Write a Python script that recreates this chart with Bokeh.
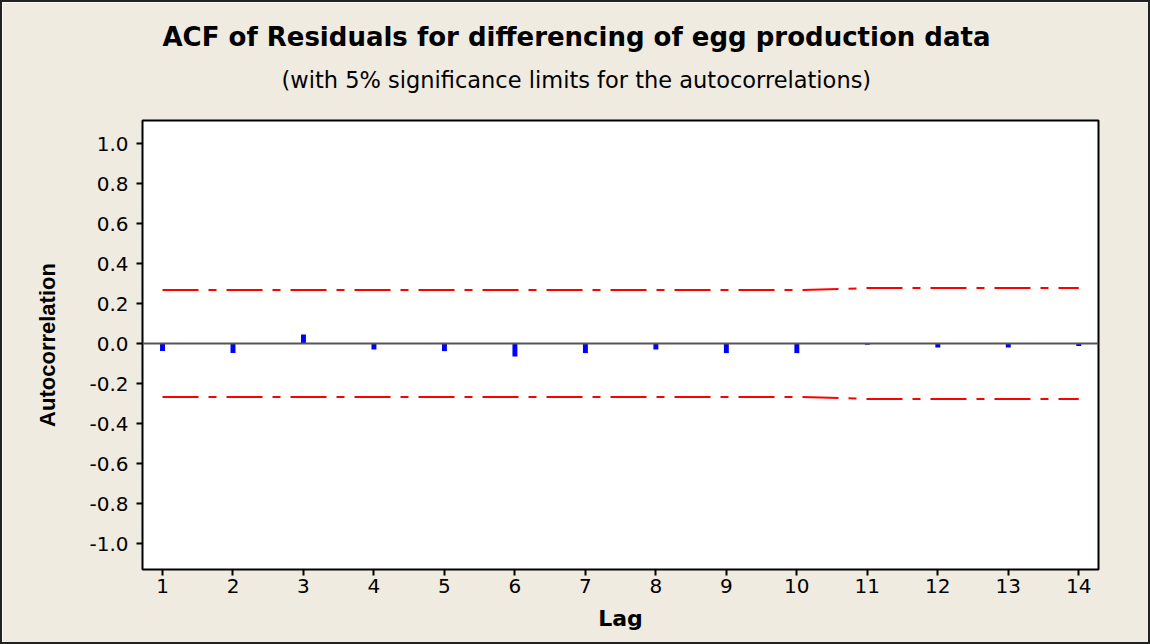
from bokeh.plotting import figure
from bokeh.models import Title, Range1d, FixedTicker, Span, CustomJSTickFormatter
from bokeh.embed import file_html
from bokeh.resources import INLINE

lags = [1, 2, 3, 4, 5, 6, 7, 8, 9, 10, 11, 12, 13, 14]
acf = [-0.038, -0.048, 0.045, -0.030, -0.038, -0.065, -0.048,
       -0.030, -0.048, -0.048, -0.006, -0.020, -0.020, -0.013]
upper = [0.267] * 10 + [0.277] * 4
lower = [-0.267] * 10 + [-0.277] * 4
y_ticks = [-1.0, -0.8, -0.6, -0.4, -0.2, 0.0, 0.2, 0.4, 0.6, 0.8, 1.0]
title_text = "ACF of Residuals for differencing of egg production data"
subtitle_text = "(with 5% significance limits for the autocorrelations)"

BG = "#EFEBE1"
FONT = "DejaVu Sans"

p = figure(width=1150, height=644, output_backend="svg", toolbar_location=None,
           title=None,
           x_range=Range1d(0.716, 14.28), y_range=Range1d(-1.13, 1.115),
           min_border_left=140, min_border_right=54, min_border_top=118,
           min_border_bottom=77)
p.background_fill_color = "white"
p.border_fill_color = BG
p.outline_line_color = "black"
p.outline_line_width = 2
p.grid.visible = False
p.styles = {"border": "2px solid #222", "box-sizing": "border-box"}

sub = Title(text=subtitle_text,
            align="left", text_font=FONT, text_font_size="22.5px",
            text_font_style="normal", text_color="black", standoff=56,
            offset=139)
p.add_layout(sub, "above")
main = Title(text=title_text,
             align="left", text_font=FONT, text_font_size="26px",
             text_font_style="bold", text_color="black", standoff=-31,
             offset=20)
p.add_layout(main, "above")

p.add_layout(Span(location=0, dimension="width", line_color="#555555", line_width=2))

p.line(lags, upper, line_color="#FF0000", line_width=2, line_dash="36 10 8 10")
p.line(lags, lower, line_color="#FF0000", line_width=2, line_dash="36 10 8 10")
p.vbar(x=lags, top=acf, bottom=0, width=0.07, fill_color="#0000FF",
       line_color=None)

p.xaxis.ticker = FixedTicker(ticks=lags)
p.yaxis.ticker = FixedTicker(ticks=y_ticks)
p.yaxis.formatter = CustomJSTickFormatter(code="return tick.toFixed(1);")
for ax in (p.xaxis, p.yaxis):
    ax.axis_line_color = None
    ax.major_tick_line_color = "black"
    ax.major_tick_line_width = 2
    ax.major_tick_out = 6
    ax.major_tick_in = 0
    ax.minor_tick_line_color = None
    ax.major_label_text_font = FONT
    ax.major_label_text_font_size = "20px"
    ax.major_label_text_color = "black"
    ax.axis_label_text_font_style = "bold"
    ax.axis_label_text_color = "black"
p.xaxis.axis_label = "Lag"
p.yaxis.axis_label = "Autocorrelation"
p.xaxis.axis_label_text_font = FONT
p.xaxis.axis_label_text_font_size = "22px"
p.yaxis.axis_label_text_font = "Liberation Sans"
p.yaxis.axis_label_text_font_size = "22px"
p.xaxis.major_label_standoff = 3
p.yaxis.major_label_standoff = 8
p.xaxis.axis_label_standoff = 10
p.yaxis.axis_label_standoff = 26

open("out.html", "w").write(file_html(p, INLINE))
